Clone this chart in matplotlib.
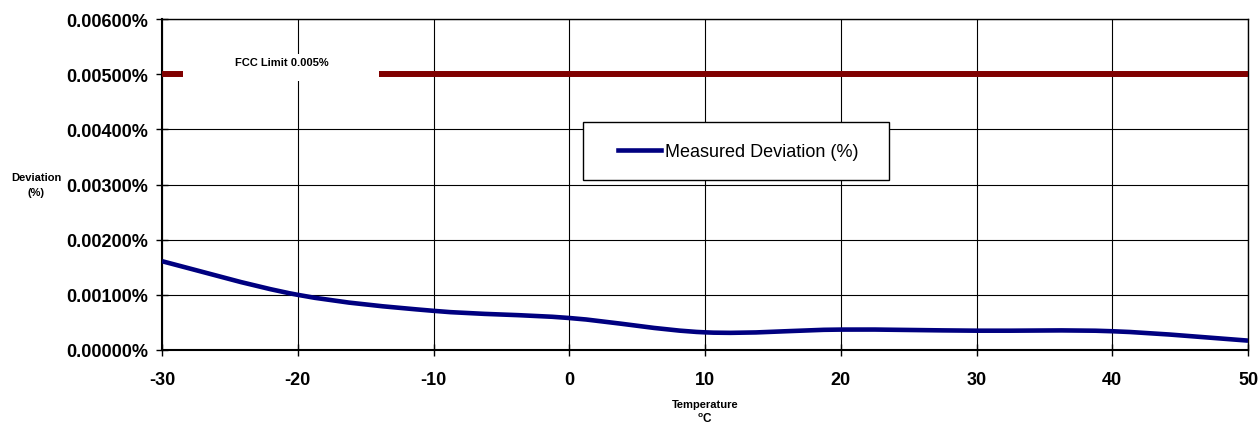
import matplotlib.pyplot as plt
from matplotlib.path import Path
from matplotlib.patches import PathPatch, Rectangle
from matplotlib.lines import Line2D
from matplotlib.ticker import FuncFormatter

plt.rcParams['font.family'] = ['Liberation Sans', 'DejaVu Sans']
plt.rcParams['axes.unicode_minus'] = False

# Data (deviation in percent)
temperature = [-30, -20, -10, 0, 10, 20, 30, 40, 50]
deviation = [0.00161, 0.00100, 0.00071, 0.00058, 0.00032, 0.00037, 0.00035, 0.00034, 0.00017]
fcc_limit = 0.005
y_ticks = [0.0, 0.001, 0.002, 0.003, 0.004, 0.005, 0.006]
x_ticks = [-30, -20, -10, 0, 10, 20, 30, 40, 50]


def smooth_path(xs, ys):
    # Catmull-Rom style smoothing expressed as cubic Bezier segments
    verts = [(xs[0], ys[0])]
    codes = [Path.MOVETO]
    n = len(xs)
    for i in range(n - 1):
        x0, y0 = (xs[i - 1], ys[i - 1]) if i > 0 else (xs[i], ys[i])
        x1, y1 = xs[i], ys[i]
        x2, y2 = xs[i + 1], ys[i + 1]
        x3, y3 = (xs[i + 2], ys[i + 2]) if i + 2 < n else (xs[i + 1], ys[i + 1])
        c1 = (x1 + (x2 - x0) / 6, y1 + (y2 - y0) / 6)
        c2 = (x2 - (x3 - x1) / 6, y2 - (y3 - y1) / 6)
        verts += [c1, c2, (x2, y2)]
        codes += [Path.CURVE4] * 3
    return Path(verts, codes)


fig = plt.figure(figsize=(12.59, 4.27), dpi=100)
ax = fig.add_axes([0.1287, 0.178, 0.8626, 0.775])

line_color = '#000080'
limit_color = '#800000'

ax.plot([temperature[0], temperature[-1]], [fcc_limit, fcc_limit],
        color=limit_color, linewidth=4.3, solid_capstyle='butt', zorder=3)
# white label background like the original data label
ax.add_patch(Rectangle((-28.45, 0.00487), 14.4, 0.00050, facecolor='white',
                       edgecolor='none', zorder=3.5))
ax.text(-21.2, 0.00522, 'FCC Limit 0.005%', fontsize=8, fontweight='bold',
        ha='center', va='center', zorder=4)

ax.add_patch(PathPatch(smooth_path(temperature, deviation), facecolor='none',
                       edgecolor=line_color, linewidth=3.3, zorder=5))

ax.set_xlim(-30, 50)
ax.set_ylim(0, 0.006)
ax.set_xticks(x_ticks)
ax.set_yticks(y_ticks)
ax.yaxis.set_major_formatter(FuncFormatter(lambda v, p: '{:.5f}%'.format(v)))
ax.grid(True, color='black', linewidth=0.8)
ax.set_axisbelow(True)
for s in ax.spines.values():
    s.set_linewidth(1.0)
ax.spines['left'].set_linewidth(1.5)
ax.spines['bottom'].set_linewidth(1.5)
ax.tick_params(axis='both', direction='inout', length=8, width=1, labelsize=13)
for lbl in ax.get_xticklabels() + ax.get_yticklabels():
    lbl.set_fontweight('bold')
ax.tick_params(axis='x', pad=11)
ax.tick_params(axis='y', pad=6)

fig.text(36 / 1259, 1 - 178 / 427, 'Deviation', fontsize=8, fontweight='bold', ha='center', va='center')
fig.text(36 / 1259, 1 - 193 / 427, '(%)', fontsize=8, fontweight='bold', ha='center', va='center')
fig.text(705 / 1259, 1 - 405 / 427, 'Temperature', fontsize=8, fontweight='bold', ha='center', va='center')
fig.text(705 / 1259, 1 - 419 / 427, r'$\mathregular{^{o}}$C', fontsize=8.5, fontweight='bold', ha='center', va='center')

# legend frame drawn as a plain box, legend entry placed inside it
fig.patches.append(Rectangle((583 / 1259, 1 - 181 / 427), 306 / 1259, 58 / 427,
                             transform=fig.transFigure, facecolor='white',
                             edgecolor='black', linewidth=1.0, zorder=10))
handle = Line2D([], [], color=line_color, linewidth=3.3)
leg = fig.legend([handle], ['Measured Deviation (%)'], loc='center left',
                 bbox_to_anchor=(618 / 1259, 1 - 153 / 427),
                 fontsize=13, frameon=False, borderpad=0, borderaxespad=0,
                 handlelength=2.4, handletextpad=0.2)
leg.set_zorder(11)

fig.savefig('out.png', dpi=100, facecolor='white')
